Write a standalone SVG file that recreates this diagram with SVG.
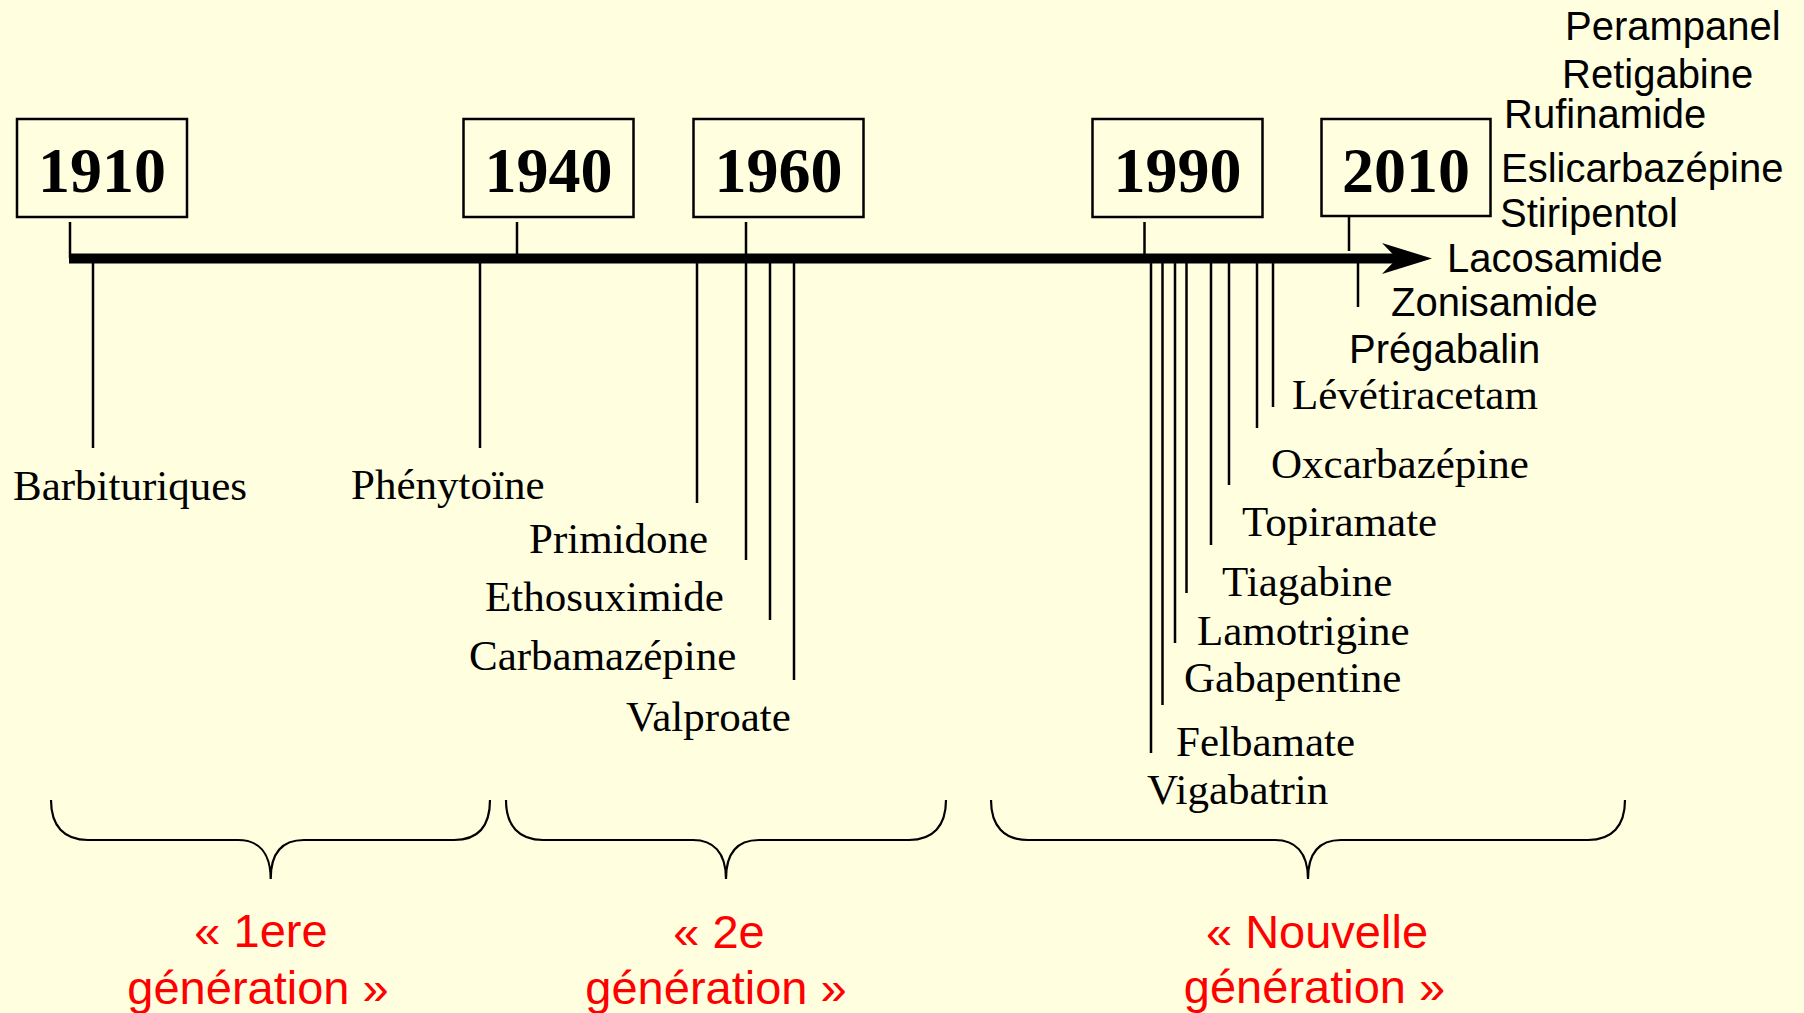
<svg xmlns="http://www.w3.org/2000/svg" width="1804" height="1013" viewBox="0 0 1804 1013">
<style>
.bg{fill:#FFFFE0}
.box{fill:none;stroke:#000;stroke-width:2.5}
.yr{font-family:"Liberation Serif","Times New Roman",serif;font-weight:bold;font-size:64px;fill:#000;text-anchor:middle}
.tm{font-family:"Liberation Serif","Times New Roman",serif;font-size:43px;fill:#000}
.ar{font-family:"Liberation Sans",Arial,sans-serif;font-size:40px;fill:#000}
.gen{font-family:"Liberation Sans",Arial,sans-serif;font-size:47px;fill:#FF0000;text-anchor:middle}
.ln{stroke:#000;stroke-width:2.5;fill:none}
.axis{stroke:#000;stroke-width:10;fill:none}
.brace{stroke:#000;stroke-width:2.2;fill:none}
</style>
<defs>
<marker id="arrow" viewBox="0 0 50 31" refX="15" refY="15.5" markerWidth="50" markerHeight="31" markerUnits="userSpaceOnUse" orient="auto">
<path d="M0,0 L50,15.5 L0,31 L15,15.5 Z" fill="#000"/>
</marker>
</defs>
<rect class="bg" x="0" y="0" width="1804" height="1013"/>

<g id="connectors">
<path class="axis" d="M69,258.5 H1397" marker-end="url(#arrow)"/>
<line class="ln" x1="70" y1="222" x2="70" y2="258"/>
<line class="ln" x1="517" y1="222" x2="517" y2="256"/>
<line class="ln" x1="746" y1="222" x2="746" y2="560"/>
<line class="ln" x1="1144.5" y1="222" x2="1144.5" y2="256"/>
<line class="ln" x1="1349" y1="217" x2="1349" y2="251"/>
<line class="ln" x1="93" y1="260" x2="93" y2="448"/>
<line class="ln" x1="480" y1="260" x2="480" y2="448"/>
<line class="ln" x1="697" y1="260" x2="697" y2="503"/>
<line class="ln" x1="770" y1="260" x2="770" y2="620"/>
<line class="ln" x1="794" y1="260" x2="794" y2="680"/>
<line class="ln" x1="1151" y1="260" x2="1151" y2="753"/>
<line class="ln" x1="1162.5" y1="260" x2="1162.5" y2="705"/>
<line class="ln" x1="1175" y1="260" x2="1175" y2="643"/>
<line class="ln" x1="1186.5" y1="260" x2="1186.5" y2="593"/>
<line class="ln" x1="1211" y1="260" x2="1211" y2="545"/>
<line class="ln" x1="1229" y1="260" x2="1229" y2="485"/>
<line class="ln" x1="1257" y1="260" x2="1257" y2="428"/>
<line class="ln" x1="1273" y1="260" x2="1273" y2="407"/>
<line class="ln" x1="1358" y1="262" x2="1358" y2="307"/>
</g>

<g id="year-1910"><rect class="box" x="17" y="119" width="170" height="98"/><text class="yr" x="102" y="192">1910</text></g>
<g id="year-1940"><rect class="box" x="463.5" y="119" width="170" height="98"/><text class="yr" x="548.5" y="192">1940</text></g>
<g id="year-1960"><rect class="box" x="693.5" y="119" width="170" height="98"/><text class="yr" x="778.5" y="192">1960</text></g>
<g id="year-1990"><rect class="box" x="1092.5" y="119" width="170" height="98"/><text class="yr" x="1177.5" y="192">1990</text></g>
<g id="year-2010"><rect class="box" x="1321.5" y="119" width="169" height="97"/><text class="yr" x="1406" y="192">2010</text></g>

<g id="drug-barbituriques"><text class="tm" x="13" y="500">Barbituriques</text></g>
<g id="drug-phenytoine"><text class="tm" x="351" y="499">Phénytoïne</text></g>
<g id="drug-primidone"><text class="tm" x="529" y="553">Primidone</text></g>
<g id="drug-ethosuximide"><text class="tm" x="485" y="611">Ethosuximide</text></g>
<g id="drug-carbamazepine"><text class="tm" x="469" y="670">Carbamazépine</text></g>
<g id="drug-valproate"><text class="tm" x="626" y="731">Valproate</text></g>
<g id="drug-vigabatrin"><text class="tm" x="1147" y="804">Vigabatrin</text></g>
<g id="drug-felbamate"><text class="tm" x="1176" y="756">Felbamate</text></g>
<g id="drug-gabapentine"><text class="tm" x="1184" y="692">Gabapentine</text></g>
<g id="drug-lamotrigine"><text class="tm" x="1197" y="645">Lamotrigine</text></g>
<g id="drug-tiagabine"><text class="tm" x="1222" y="596">Tiagabine</text></g>
<g id="drug-topiramate"><text class="tm" x="1242" y="536">Topiramate</text></g>
<g id="drug-oxcarbazepine"><text class="tm" x="1271" y="478">Oxcarbazépine</text></g>
<g id="drug-levetiracetam"><text class="tm" x="1292" y="409">Lévétiracetam</text></g>
<g id="drug-pregabalin"><text class="ar" x="1349" y="363">Prégabalin</text></g>
<g id="drug-zonisamide"><text class="ar" x="1391" y="316">Zonisamide</text></g>
<g id="drug-lacosamide"><text class="ar" x="1447" y="272">Lacosamide</text></g>
<g id="drug-stiripentol"><text class="ar" x="1500" y="227">Stiripentol</text></g>
<g id="drug-eslicarbazepine"><text class="ar" x="1501" y="182">Eslicarbazépine</text></g>
<g id="drug-rufinamide"><text class="ar" x="1504" y="128">Rufinamide</text></g>
<g id="drug-retigabine"><text class="ar" x="1562" y="88">Retigabine</text></g>
<g id="drug-perampanel"><text class="ar" x="1565" y="40">Perampanel</text></g>

<g id="gen-1">
<path class="brace" d="M51,800 C51,826 64,840 88,840 H238 C258,840 270.7,852 270.7,879 C270.7,852 283,840 304,840 H454 C478,840 490,826 490,800"/>
<text class="gen" x="261" y="947">« 1ere</text>
<text class="gen" x="258" y="1004">génération »</text>
</g>
<g id="gen-2">
<path class="brace" d="M506,800 C506,826 519,840 543,840 H693 C713,840 726,852 726,879 C726,852 738,840 759,840 H909 C933,840 946,826 946,800"/>
<text class="gen" x="719" y="948">« 2e</text>
<text class="gen" x="716" y="1004">génération »</text>
</g>
<g id="gen-3">
<path class="brace" d="M991,800 C991,826 1004,840 1028,840 H1275 C1295,840 1308,852 1308,879 C1308,852 1320,840 1341,840 H1588 C1612,840 1625,826 1625,800"/>
<text class="gen" x="1317" y="948">« Nouvelle</text>
<text class="gen" x="1314.5" y="1003">génération »</text>
</g>
</svg>
